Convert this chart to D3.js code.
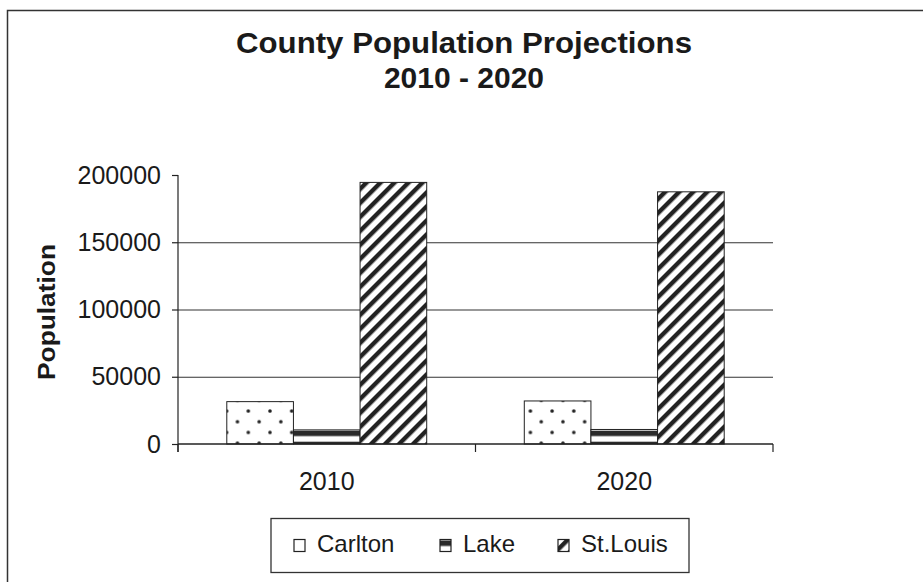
<!DOCTYPE html>
<html>
<head>
<meta charset="utf-8">
<script src="https://cdn.jsdelivr.net/npm/d3@7"></script>
<style>
  body { margin: 0; background: #fff; }
  svg text { font-family: "Liberation Sans", Arial, sans-serif; fill: #1a1a1a; }
</style>
</head>
<body>
<div id="chart"></div>
<script>
var width = 923;
var height = 582;

// data
var years = ["2010", "2020"];
var counties = ["Carlton", "Lake", "St.Louis"];
var carlton = [31500, 32000];
var lake = [10500, 10800];
var stLouis = [194500, 187500];
var yTicks = [0, 50000, 100000, 150000, 200000];

var series = [carlton, lake, stLouis];

var plot = { left: 178, right: 773, top: 175, bottom: 444 };

var svg = d3.select("#chart").append("svg")
    .attr("width", width)
    .attr("height", height);

// fill patterns
var defs = svg.append("defs");

var dots = defs.append("pattern")
    .attr("id", "pat-dots")
    .attr("patternUnits", "userSpaceOnUse")
    .attr("width", 21.7)
    .attr("height", 21.4)
    .attr("x", 248.3)
    .attr("y", 411);
dots.append("rect").attr("width", 21.7).attr("height", 21.4).attr("fill", "#fff");
[[0, 0], [21.7, 0], [0, 21.4], [21.7, 21.4], [10.85, 10.7]].forEach(function(p) {
    dots.append("circle").attr("cx", p[0]).attr("cy", p[1]).attr("r", 1.8).attr("fill", "#222");
});

var y = d3.scaleLinear()
    .domain([0, 200000])
    .range([plot.bottom, plot.top]);

var hstripes = defs.append("pattern")
    .attr("id", "pat-hstripes")
    .attr("patternUnits", "userSpaceOnUse")
    .attr("width", 10)
    .attr("height", 11)
    .attr("y", y(0) - 13.3);
hstripes.append("rect").attr("width", 10).attr("height", 11).attr("fill", "#fff");
hstripes.append("rect").attr("width", 10).attr("height", 5.4).attr("fill", "#2a2a2a");

var diag = defs.append("pattern")
    .attr("id", "pat-diag")
    .attr("patternUnits", "userSpaceOnUse")
    .attr("width", 9.9)
    .attr("height", 9.9)
    .attr("patternTransform", "rotate(45)");
diag.append("rect").attr("width", 9.9).attr("height", 9.9).attr("fill", "#fff");
diag.append("rect").attr("width", 4.4).attr("height", 9.9).attr("fill", "#222");

var fills = ["url(#pat-dots)", "url(#pat-hstripes)", "url(#pat-diag)"];

// outer frame (right and bottom edges run off the page)
svg.append("rect")
    .attr("x", 7.5)
    .attr("y", 10.5)
    .attr("width", 940)
    .attr("height", 600)
    .attr("fill", "none")
    .attr("stroke", "#333")
    .attr("stroke-width", 1.5);

// title
var title = svg.append("text")
    .attr("x", 464)
    .attr("y", 53)
    .attr("text-anchor", "middle")
    .style("font-size", "30px")
    .style("font-weight", "bold");
title.append("tspan")
    .attr("x", 464)
    .attr("textLength", 456)
    .attr("lengthAdjust", "spacingAndGlyphs")
    .text("County Population Projections");
title.append("tspan").attr("x", 464).attr("dy", 35).text("2010 - 2020");

var x0 = d3.scaleBand()
    .domain(years)
    .range([plot.left, plot.right])
    .paddingInner(0.328)
    .paddingOuter(0.164);

var x1 = d3.scaleBand()
    .domain(counties)
    .range([0, x0.bandwidth()]);

// gridlines
svg.append("g")
    .attr("transform", "translate(" + plot.left + ",0)")
    .call(d3.axisLeft(y)
        .tickValues(yTicks.filter(function(d) { return d > 0 && d < 200000; }))
        .tickSize(-(plot.right - plot.left))
        .tickFormat(""))
    .call(function(g) { g.select(".domain").remove(); })
    .selectAll("line")
    .attr("stroke", "#333")
    .attr("stroke-width", 1.2);

// bars
years.forEach(function(yr, i) {
    counties.forEach(function(c, j) {
        var v = series[j][i];
        svg.append("rect")
            .attr("x", x0(yr) + x1(c))
            .attr("y", y(v))
            .attr("width", x1.bandwidth())
            .attr("height", y(0) - y(v))
            .attr("fill", fills[j])
            .attr("stroke", "#222")
            .attr("stroke-width", 1);
    });
});

// y axis
var yAxis = svg.append("g")
    .attr("transform", "translate(" + plot.left + ",0)")
    .call(d3.axisLeft(y)
        .tickValues(yTicks)
        .tickSize(6)
        .tickPadding(11)
        .tickFormat(d3.format("d")));
yAxis.select(".domain").remove();
yAxis.selectAll("line").attr("stroke", "#222").attr("stroke-width", 1.2);
yAxis.selectAll("text").style("font-size", "25px").attr("fill", "#1a1a1a");
yAxis.append("line")
    .attr("x1", 0).attr("x2", 0)
    .attr("y1", plot.top).attr("y2", plot.bottom + 8)
    .attr("stroke", "#222")
    .attr("stroke-width", 1.2);

// x axis
var xAxis = svg.append("g")
    .attr("transform", "translate(0," + plot.bottom + ")")
    .call(d3.axisBottom(x0).tickSize(0).tickPadding(28));
xAxis.select(".domain").remove();
xAxis.selectAll("text").style("font-size", "25px").attr("fill", "#1a1a1a");
xAxis.append("line")
    .attr("x1", plot.left).attr("x2", plot.right)
    .attr("y1", 0).attr("y2", 0)
    .attr("stroke", "#222")
    .attr("stroke-width", 1.4);
var bounds = [plot.left, (plot.left + plot.right) / 2, plot.right];
xAxis.selectAll(".bound")
    .data(bounds)
    .enter().append("line")
    .attr("class", "bound")
    .attr("x1", function(d) { return d; })
    .attr("x2", function(d) { return d; })
    .attr("y1", 0).attr("y2", 8)
    .attr("stroke", "#222")
    .attr("stroke-width", 1.2);

// y axis title
svg.append("text")
    .attr("transform", "translate(55,312) rotate(-90)")
    .attr("text-anchor", "middle")
    .attr("textLength", 136)
    .attr("lengthAdjust", "spacingAndGlyphs")
    .style("font-size", "23px")
    .style("font-weight", "bold")
    .text("Population");

// legend
var legend = svg.append("g")
    .attr("transform", "translate(271,518.5)");
legend.append("rect")
    .attr("width", 418)
    .attr("height", 54)
    .attr("fill", "#fff")
    .attr("stroke", "#333")
    .attr("stroke-width", 1.3);

var legendX = [23, 169, 287];
var legendSwatchFills = ["#fff", "url(#pat-hstripes-leg)", "url(#pat-diag)"];

var hLeg = defs.append("pattern")
    .attr("id", "pat-hstripes-leg")
    .attr("patternUnits", "userSpaceOnUse")
    .attr("width", 10)
    .attr("height", 11)
    .attr("y", 539);
hLeg.append("rect").attr("width", 10).attr("height", 11).attr("fill", "#fff");
hLeg.append("rect").attr("width", 10).attr("height", 5.5).attr("fill", "#2a2a2a");

var items = legend.selectAll(".item")
    .data(counties)
    .enter().append("g")
    .attr("class", "item")
    .attr("transform", function(d, i) { return "translate(" + legendX[i] + ",0)"; });

items.append("rect")
    .attr("x", 0)
    .attr("y", 21)
    .attr("width", 11)
    .attr("height", 12)
    .attr("fill", function(d, i) { return legendSwatchFills[i]; })
    .attr("stroke", "#222")
    .attr("stroke-width", 1.2);

items.append("text")
    .attr("x", 23)
    .attr("y", 33.5)
    .style("font-size", "24px")
    .text(function(d) { return d; });
</script>
</body>
</html>
